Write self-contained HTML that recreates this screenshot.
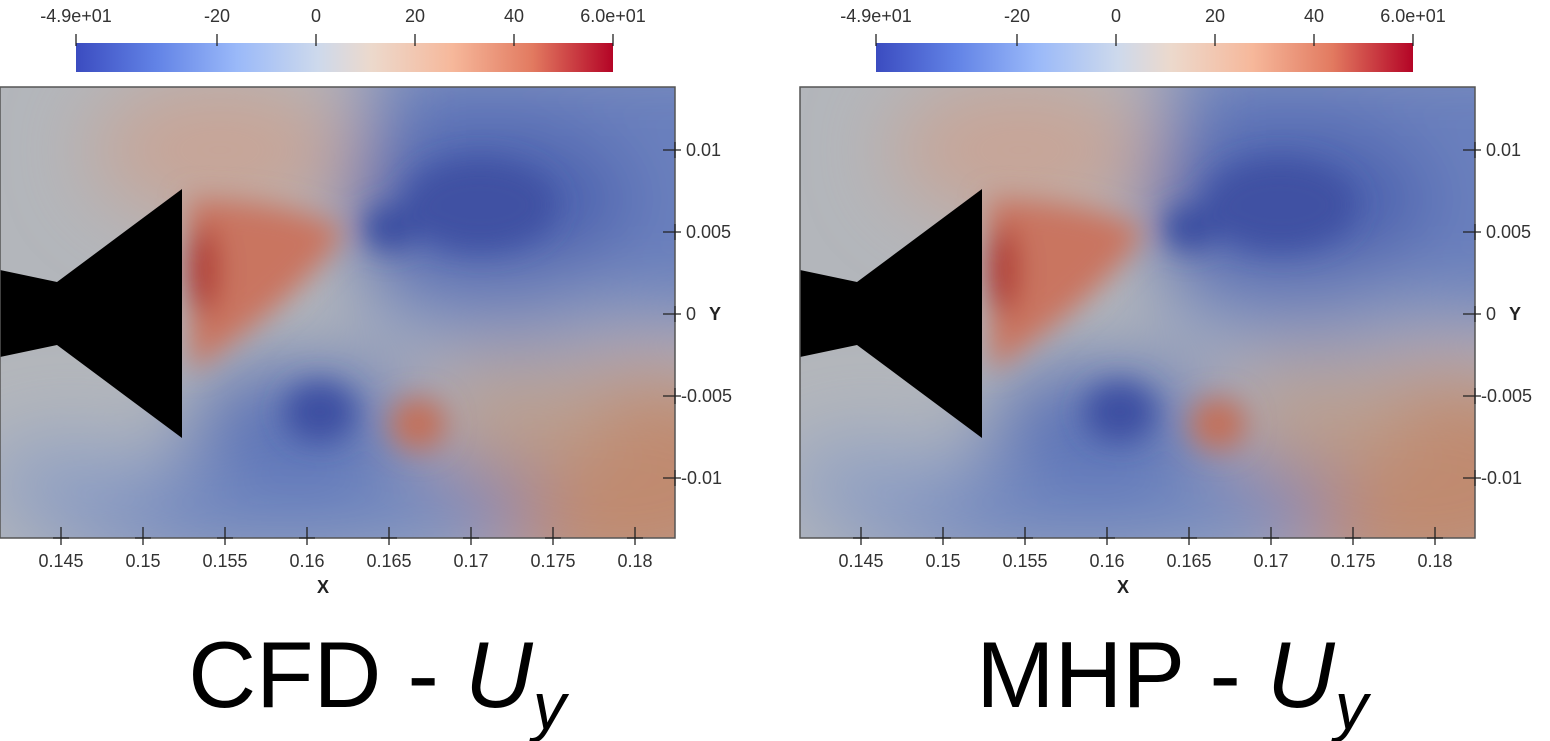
<!DOCTYPE html>
<html><head><meta charset="utf-8"><style>
html,body{margin:0;padding:0;background:#fff;width:1550px;height:741px;overflow:hidden}
svg{display:block}
</style></head><body>
<svg width="1550" height="741" viewBox="0 0 1550 741" xmlns="http://www.w3.org/2000/svg" font-family="Liberation Sans, sans-serif">
<defs>
<linearGradient id="cb" x1="0" x2="1" y1="0" y2="0">
<stop offset="0" stop-color="#3b4cc0"/>
<stop offset="0.15" stop-color="#6283e6"/>
<stop offset="0.3" stop-color="#9ab9f9"/>
<stop offset="0.45" stop-color="#cdd9ec"/>
<stop offset="0.55" stop-color="#ecd9cc"/>
<stop offset="0.7" stop-color="#f6b89b"/>
<stop offset="0.85" stop-color="#e27a60"/>
<stop offset="1" stop-color="#b40426"/>
</linearGradient>
<filter id="bl" x="-50%" y="-50%" width="200%" height="200%"><feGaussianBlur stdDeviation="40"/></filter>
<filter id="bl2" x="-50%" y="-50%" width="200%" height="200%"><feGaussianBlur stdDeviation="14"/></filter>
<clipPath id="cp"><rect x="0" y="87" width="675" height="451"/></clipPath>
<g id="field">
<g clip-path="url(#cp)">
<rect x="0" y="87" width="675" height="451" fill="#b3b6bb"/>
<g filter="url(#bl)">
<rect x="370" y="40" width="400" height="280" fill="#6a80bd"/>
<ellipse cx="500" cy="300" rx="140" ry="50" fill="#8092c0"/>
<ellipse cx="620" cy="480" rx="180" ry="110" fill="#c08a70"/>
<ellipse cx="520" cy="410" rx="90" ry="50" fill="#b9a092"/>
<ellipse cx="280" cy="510" rx="260" ry="55" fill="#6f86c0"/>
<ellipse cx="70" cy="480" rx="90" ry="40" fill="#90a0c4"/>
<ellipse cx="220" cy="150" rx="130" ry="70" fill="#c8a496"/>
<ellipse cx="490" cy="205" rx="140" ry="80" fill="#4a5fae"/>
<ellipse cx="300" cy="420" rx="110" ry="55" fill="#5870b6"/>
</g>
<g filter="url(#bl2)">
<ellipse cx="480" cy="205" rx="75" ry="45" fill="#3f51a3"/>
<ellipse cx="390" cy="228" rx="26" ry="22" fill="#3b4ea0"/>
<path d="M188 198 Q300 200 345 232 Q300 300 190 372 Z" fill="#c97560"/>
<ellipse cx="203" cy="270" rx="16" ry="45" fill="#b0352d"/>
<ellipse cx="320" cy="412" rx="36" ry="30" fill="#3c4fa2"/>
<ellipse cx="418" cy="424" rx="28" ry="26" fill="#c46f58"/>
</g>
<polygon points="0,270 57,282 182,189 182,438 57,345 0,357" fill="#000"/>
</g>
<rect x="0" y="87" width="675" height="451" fill="none" stroke="#555" stroke-width="1.5"/>
<g stroke="#222" stroke-width="1.3">
<line x1="663" y1="150" x2="681" y2="150"/><line x1="675" y1="142" x2="675" y2="158"/>
<line x1="663" y1="232" x2="681" y2="232"/><line x1="675" y1="224" x2="675" y2="240"/>
<line x1="663" y1="314" x2="681" y2="314"/><line x1="675" y1="306" x2="675" y2="322"/>
<line x1="663" y1="396" x2="681" y2="396"/><line x1="675" y1="388" x2="675" y2="404"/>
<line x1="663" y1="478" x2="681" y2="478"/><line x1="675" y1="470" x2="675" y2="486"/>
<line x1="61" y1="527" x2="61" y2="545"/><line x1="53" y1="538" x2="69" y2="538"/>
<line x1="143" y1="527" x2="143" y2="545"/><line x1="135" y1="538" x2="151" y2="538"/>
<line x1="225" y1="527" x2="225" y2="545"/><line x1="217" y1="538" x2="233" y2="538"/>
<line x1="307" y1="527" x2="307" y2="545"/><line x1="299" y1="538" x2="315" y2="538"/>
<line x1="389" y1="527" x2="389" y2="545"/><line x1="381" y1="538" x2="397" y2="538"/>
<line x1="471" y1="527" x2="471" y2="545"/><line x1="463" y1="538" x2="479" y2="538"/>
<line x1="553" y1="527" x2="553" y2="545"/><line x1="545" y1="538" x2="561" y2="538"/>
<line x1="635" y1="527" x2="635" y2="545"/><line x1="627" y1="538" x2="643" y2="538"/>
</g>
<g font-size="18" fill="#333">
<text x="686" y="156">0.01</text>
<text x="686" y="238">0.005</text>
<text x="686" y="320">0</text>
<text x="681" y="402">-0.005</text>
<text x="681" y="484">-0.01</text>
<text x="709" y="320" font-weight="bold" fill="#222">Y</text>
</g>
<g font-size="18" fill="#333" text-anchor="middle">
<text x="61" y="567">0.145</text><text x="143" y="567">0.15</text><text x="225" y="567">0.155</text><text x="307" y="567">0.16</text>
<text x="389" y="567">0.165</text><text x="471" y="567">0.17</text><text x="553" y="567">0.175</text><text x="635" y="567">0.18</text>
<text x="323" y="593" font-weight="bold" fill="#222">X</text>
</g>
<rect x="76" y="43" width="537" height="29" fill="url(#cb)"/>
<g stroke="#222" stroke-width="1.3">
<line x1="76" y1="34" x2="76" y2="46"/><line x1="217" y1="34" x2="217" y2="46"/><line x1="316" y1="34" x2="316" y2="46"/>
<line x1="415" y1="34" x2="415" y2="46"/><line x1="514" y1="34" x2="514" y2="46"/><line x1="613" y1="34" x2="613" y2="46"/>
</g>
<g font-size="18" fill="#333" text-anchor="middle">
<text x="76" y="22">-4.9e+01</text><text x="217" y="22">-20</text><text x="316" y="22">0</text>
<text x="415" y="22">20</text><text x="514" y="22">40</text><text x="613" y="22">6.0e+01</text>
</g>
</g>
</defs>
<use href="#field"/>
<use href="#field" x="800"/>
<text x="377" y="707" font-size="94" text-anchor="middle" fill="#000">CFD - <tspan font-style="italic">U</tspan><tspan font-style="italic" font-size="66" dy="22">y</tspan></text>
<text x="1172" y="707" font-size="94" text-anchor="middle" fill="#000">MHP - <tspan font-style="italic">U</tspan><tspan font-style="italic" font-size="66" dy="22">y</tspan></text>
</svg>
</body></html>
